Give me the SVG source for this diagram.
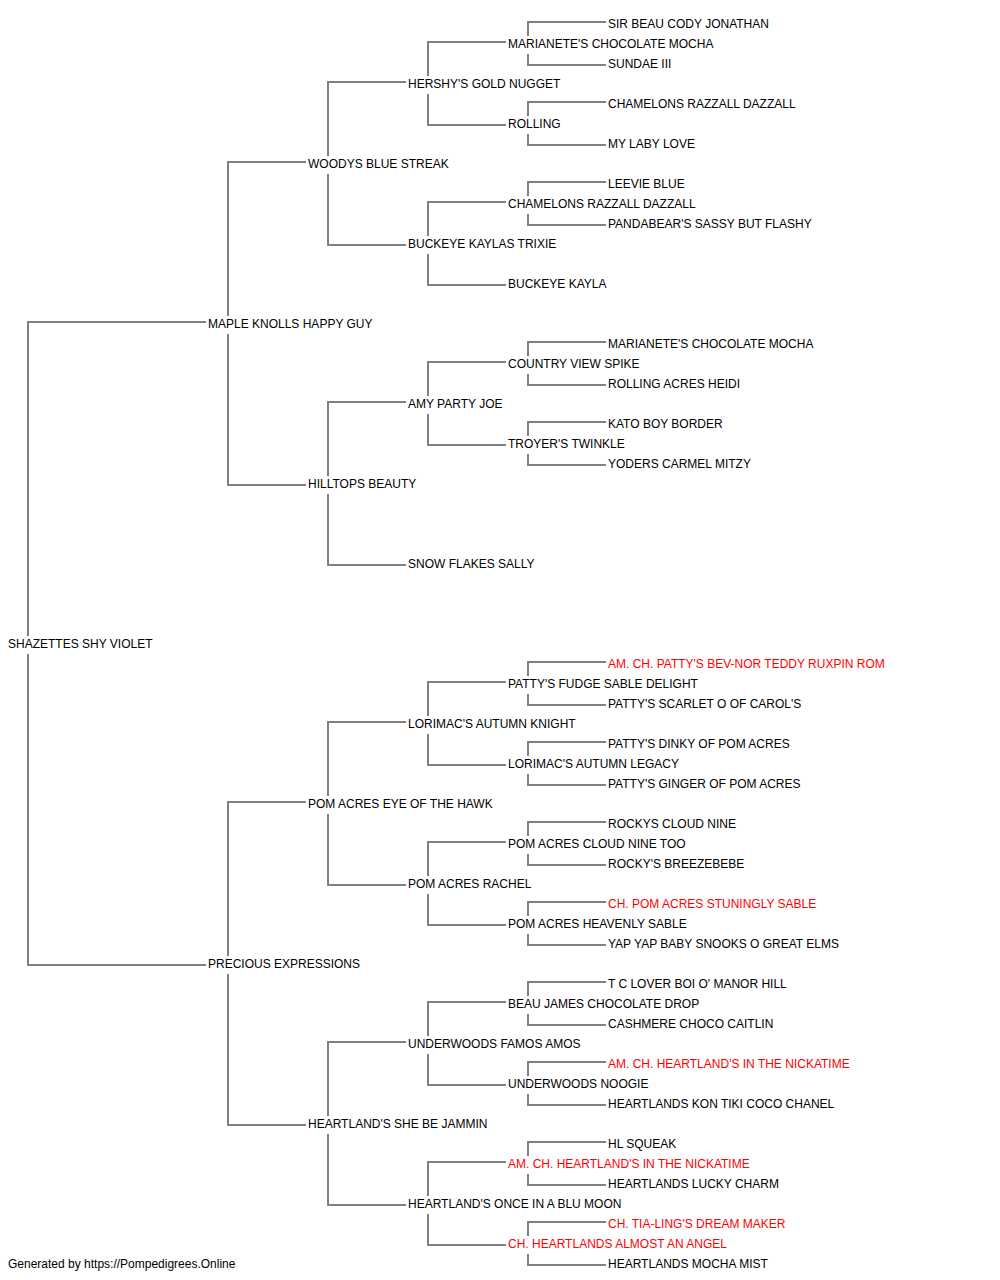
<svg xmlns="http://www.w3.org/2000/svg" width="1000" height="1280" viewBox="0 0 1000 1280">
<style>
text{font-family:"Liberation Sans",Arial,sans-serif;font-size:12px;fill:#000}
text.ch{fill:#ff0000}
.c path{fill:none;stroke:#808080;stroke-width:2}
</style>
<rect width="1000" height="1280" fill="#fff"/>
<g id="connectors" class="c">
<path d="M206 322H28V636M28 654V965H206"/>
<path d="M306 162H228V316M228 334V485H306"/>
<path d="M406 82H328V156M328 174V245H406"/>
<path d="M506 42H428V76M428 94V125H506"/>
<path d="M606 22H528V36M528 54V65H606"/>
<path d="M606 102H528V116M528 134V145H606"/>
<path d="M506 202H428V236M428 254V285H506"/>
<path d="M606 182H528V196M528 214V225H606"/>
<path d="M406 402H328V476M328 494V565H406"/>
<path d="M506 362H428V396M428 414V445H506"/>
<path d="M606 342H528V356M528 374V385H606"/>
<path d="M606 422H528V436M528 454V465H606"/>
<path d="M306 802H228V956M228 974V1125H306"/>
<path d="M406 722H328V796M328 814V885H406"/>
<path d="M506 682H428V716M428 734V765H506"/>
<path d="M606 662H528V676M528 694V705H606"/>
<path d="M606 742H528V756M528 774V785H606"/>
<path d="M506 842H428V876M428 894V925H506"/>
<path d="M606 822H528V836M528 854V865H606"/>
<path d="M606 902H528V916M528 934V945H606"/>
<path d="M406 1042H328V1116M328 1134V1205H406"/>
<path d="M506 1002H428V1036M428 1054V1085H506"/>
<path d="M606 982H528V996M528 1014V1025H606"/>
<path d="M606 1062H528V1076M528 1094V1105H606"/>
<path d="M506 1162H428V1196M428 1214V1245H506"/>
<path d="M606 1142H528V1156M528 1174V1185H606"/>
<path d="M606 1222H528V1236M528 1254V1265H606"/>
</g>
<g id="n-shazettes"><text x="8" y="648">SHAZETTES SHY VIOLET</text></g>
<g id="n-maple"><text x="208" y="328">MAPLE KNOLLS HAPPY GUY</text></g>
<g id="n-woodys"><text x="308" y="168">WOODYS BLUE STREAK</text></g>
<g id="n-hershy"><text x="408" y="88">HERSHY'S GOLD NUGGET</text></g>
<g id="n-marianete1"><text x="508" y="48">MARIANETE'S CHOCOLATE MOCHA</text></g>
<g id="n-sirbeau"><text x="608" y="28">SIR BEAU CODY JONATHAN</text></g>
<g id="n-sundae"><text x="608" y="68">SUNDAE III</text></g>
<g id="n-rolling"><text x="508" y="128">ROLLING</text></g>
<g id="n-chamelons1"><text x="608" y="108">CHAMELONS RAZZALL DAZZALL</text></g>
<g id="n-mylaby"><text x="608" y="148">MY LABY LOVE</text></g>
<g id="n-buckeyekaylas"><text x="408" y="248">BUCKEYE KAYLAS TRIXIE</text></g>
<g id="n-chamelons2"><text x="508" y="208">CHAMELONS RAZZALL DAZZALL</text></g>
<g id="n-leevie"><text x="608" y="188">LEEVIE BLUE</text></g>
<g id="n-pandabear"><text x="608" y="228">PANDABEAR'S SASSY BUT FLASHY</text></g>
<g id="n-buckeyekayla"><text x="508" y="288">BUCKEYE KAYLA</text></g>
<g id="n-hilltops"><text x="308" y="488">HILLTOPS BEAUTY</text></g>
<g id="n-amy"><text x="408" y="408">AMY PARTY JOE</text></g>
<g id="n-country"><text x="508" y="368">COUNTRY VIEW SPIKE</text></g>
<g id="n-marianete2"><text x="608" y="348">MARIANETE'S CHOCOLATE MOCHA</text></g>
<g id="n-rollingacres"><text x="608" y="388">ROLLING ACRES HEIDI</text></g>
<g id="n-troyers"><text x="508" y="448">TROYER'S TWINKLE</text></g>
<g id="n-kato"><text x="608" y="428">KATO BOY BORDER</text></g>
<g id="n-yoders"><text x="608" y="468">YODERS CARMEL MITZY</text></g>
<g id="n-snowflakes"><text x="408" y="568">SNOW FLAKES SALLY</text></g>
<g id="n-precious"><text x="208" y="968">PRECIOUS EXPRESSIONS</text></g>
<g id="n-pomeye"><text x="308" y="808">POM ACRES EYE OF THE HAWK</text></g>
<g id="n-lorimacknight"><text x="408" y="728">LORIMAC'S AUTUMN KNIGHT</text></g>
<g id="n-pattysfudge"><text x="508" y="688">PATTY'S FUDGE SABLE DELIGHT</text></g>
<g id="n-amchpatty"><text class="ch" x="608" y="668">AM. CH. PATTY'S BEV-NOR TEDDY RUXPIN ROM</text></g>
<g id="n-pattysscarlet"><text x="608" y="708">PATTY'S SCARLET O OF CAROL'S</text></g>
<g id="n-lorimaclegacy"><text x="508" y="768">LORIMAC'S AUTUMN LEGACY</text></g>
<g id="n-dinky"><text x="608" y="748">PATTY'S DINKY OF POM ACRES</text></g>
<g id="n-ginger"><text x="608" y="788">PATTY'S GINGER OF POM ACRES</text></g>
<g id="n-pomrachel"><text x="408" y="888">POM ACRES RACHEL</text></g>
<g id="n-pomcloud"><text x="508" y="848">POM ACRES CLOUD NINE TOO</text></g>
<g id="n-rockys"><text x="608" y="828">ROCKYS CLOUD NINE</text></g>
<g id="n-rockysbreeze"><text x="608" y="868">ROCKY'S BREEZEBEBE</text></g>
<g id="n-pomheavenly"><text x="508" y="928">POM ACRES HEAVENLY SABLE</text></g>
<g id="n-chpom"><text class="ch" x="608" y="908">CH. POM ACRES STUNINGLY SABLE</text></g>
<g id="n-yap"><text x="608" y="948">YAP YAP BABY SNOOKS O GREAT ELMS</text></g>
<g id="n-heartlandsshe"><text x="308" y="1128">HEARTLAND'S SHE BE JAMMIN</text></g>
<g id="n-underwoodsfamos"><text x="408" y="1048">UNDERWOODS FAMOS AMOS</text></g>
<g id="n-beaujames"><text x="508" y="1008">BEAU JAMES CHOCOLATE DROP</text></g>
<g id="n-tclover"><text x="608" y="988">T C LOVER BOI O' MANOR HILL</text></g>
<g id="n-cashmere"><text x="608" y="1028">CASHMERE CHOCO CAITLIN</text></g>
<g id="n-noogie"><text x="508" y="1088">UNDERWOODS NOOGIE</text></g>
<g id="n-amchheartland1"><text class="ch" x="608" y="1068">AM. CH. HEARTLAND'S IN THE NICKATIME</text></g>
<g id="n-kontiki"><text x="608" y="1108">HEARTLANDS KON TIKI COCO CHANEL</text></g>
<g id="n-heartlandsonce"><text x="408" y="1208">HEARTLAND'S ONCE IN A BLU MOON</text></g>
<g id="n-amchheartland2"><text class="ch" x="508" y="1168">AM. CH. HEARTLAND'S IN THE NICKATIME</text></g>
<g id="n-hlsqueak"><text x="608" y="1148">HL SQUEAK</text></g>
<g id="n-luckycharm"><text x="608" y="1188">HEARTLANDS LUCKY CHARM</text></g>
<g id="n-chalmost"><text class="ch" x="508" y="1248">CH. HEARTLANDS ALMOST AN ANGEL</text></g>
<g id="n-chtia"><text class="ch" x="608" y="1228">CH. TIA-LING'S DREAM MAKER</text></g>
<g id="n-mochamist"><text x="608" y="1268">HEARTLANDS MOCHA MIST</text></g>
<text x="8" y="1268">Generated by https://Pompedigrees.Online</text>
</svg>
